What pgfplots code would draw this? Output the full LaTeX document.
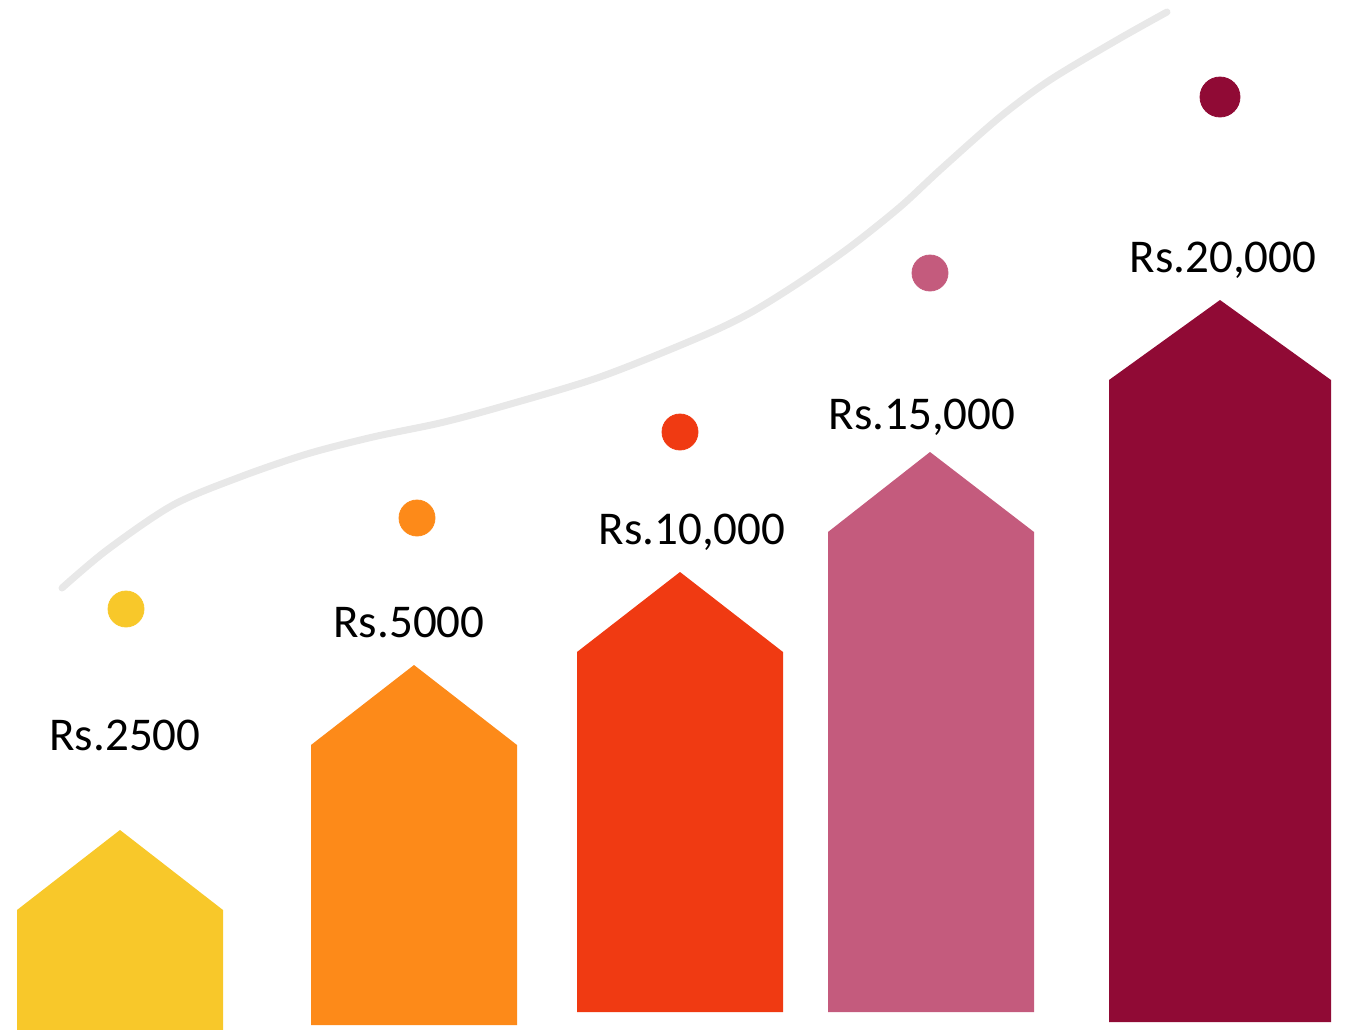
\documentclass[border=0pt]{standalone}
\usepackage{pgfplots}
\pgfplotsset{compat=1.18}
\usepackage{fontspec}
\setmainfont{Carlito}
\definecolor{cYel}{HTML}{F8C82A}
\definecolor{cOra}{HTML}{FD8A19}
\definecolor{cRed}{HTML}{F03A12}
\definecolor{cPink}{HTML}{C45B7D}
\definecolor{cMar}{HTML}{900A35}
\definecolor{cCurve}{HTML}{E8E8E8}
\begin{document}
\begin{tikzpicture}
\begin{axis}[
  width=673bp, height=515bp, scale only axis,
  xmin=0, xmax=1346, ymin=0, ymax=1030, y dir=reverse,
  hide axis, clip=false,
]
\path (rel axis cs:0,0) rectangle (rel axis cs:1,1);
% gray curve
\addplot[cCurve, line width=3.5bp, line cap=round, smooth, tension=0.5] coordinates {
 (62,588) (107,550) (173,505) (240,477) (307,454) (373,437) (440,423)
 (500,407) (600,377) (700,337) (750,313) (800,282) (850,247) (900,207)
 (940,170) (1000,117) (1050,80) (1117,40) (1167,12)};
% house-shaped bars
\addplot[fill=cYel, draw=none] coordinates {(17,1030) (17,910) (120,830) (223,910) (223,1030) (17,1030)};
\addplot[fill=cOra, draw=none] coordinates {(311,1025) (311,745) (414,665) (517,745) (517,1025) (311,1025)};
\addplot[fill=cRed, draw=none] coordinates {(577,1012) (577,652) (680,572) (783,652) (783,1012) (577,1012)};
\addplot[fill=cPink, draw=none] coordinates {(828,1012) (828,532) (930,452) (1034,532) (1034,1012) (828,1012)};
\addplot[fill=cMar, draw=none] coordinates {(1109,1022) (1109,380) (1220,300) (1331,380) (1331,1022) (1109,1022)};
% dots
\addplot[cYel, only marks, mark=*, mark size=9bp, mark options={draw=cYel, fill=cYel}] coordinates {(126,609)};
\addplot[cOra, only marks, mark=*, mark size=9bp, mark options={draw=cOra, fill=cOra}] coordinates {(417,518)};
\addplot[cRed, only marks, mark=*, mark size=9bp, mark options={draw=cRed, fill=cRed}] coordinates {(680,432)};
\addplot[cPink, only marks, mark=*, mark size=9bp, mark options={draw=cPink, fill=cPink}] coordinates {(930,273)};
\addplot[cMar, only marks, mark=*, mark size=10bp, mark options={draw=cMar, fill=cMar}] coordinates {(1220,97)};
% labels
\addplot[draw=none, mark=none, nodes near coords, point meta=explicit symbolic,
  every node near coord/.append style={anchor=base, inner sep=0pt, text=black,
  font=\fontsize{23.5bp}{28bp}\selectfont}] coordinates {
  (125,750) [Rs.2500]
  (409,637) [Rs.5000]
  (692,544) [Rs.10,000]
  (922,429) [Rs.15,000]
  (1223,272) [Rs.20,000]
};
\end{axis}
\end{tikzpicture}
\end{document}
